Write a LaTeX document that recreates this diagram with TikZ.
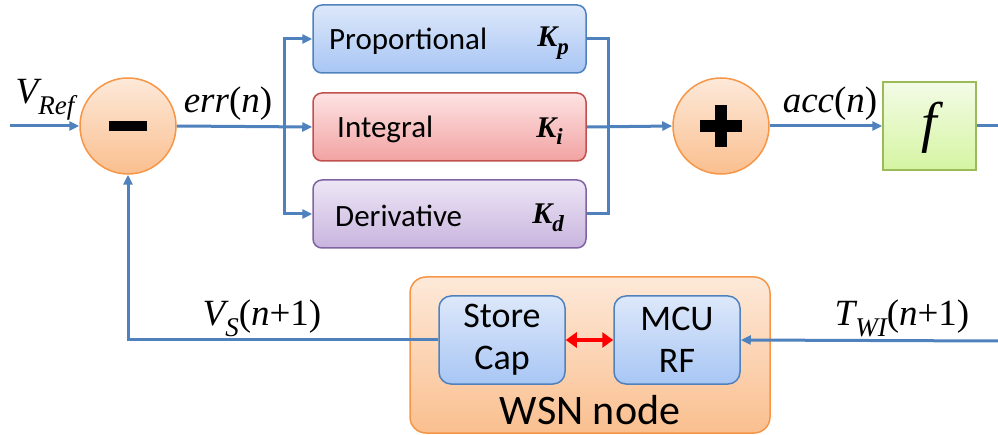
\documentclass[tikz,border=0pt]{standalone}
\usepackage{fontspec}
\setmainfont{Carlito}
\newfontfamily\timesfnt{Liberation Serif}
\usetikzlibrary{arrows.meta}
\definecolor{lblue}{HTML}{4F81BD}
\definecolor{orng}{HTML}{F79646}
\definecolor{otop}{HTML}{FDE9D9}
\definecolor{obot}{HTML}{FABF8F}
\definecolor{btop}{HTML}{DDE8FA}
\definecolor{bbot}{HTML}{A8C6F4}
\definecolor{rtop}{HTML}{FDE3E3}
\definecolor{rbot}{HTML}{F2A2A2}
\definecolor{rdraw}{HTML}{C0504D}
\definecolor{vtop}{HTML}{EDE6F5}
\definecolor{vbot}{HTML}{C8B4DE}
\definecolor{vdraw}{HTML}{8064A2}
\definecolor{gtop}{HTML}{F3FBE6}
\definecolor{gbot}{HTML}{D5F5A2}
\definecolor{gdraw}{HTML}{9BBB59}
\tikzset{
  conn/.style={draw=lblue, line width=3pt},
  arr/.style={conn, -{Triangle[length=10pt,width=9pt]}},
  sumcirc/.style={circle, draw=orng, line width=1.5pt, minimum size=96pt, inner sep=0pt, top color=otop, bottom color=obot},
  blk/.style={rectangle, rounded corners=9pt, line width=1.5pt, minimum width=273pt, minimum height=68pt, inner sep=0pt},
  lbl/.style={font=\timesfnt\itshape\fontsize{37}{40}\selectfont, inner sep=0pt},
  btxt/.style={font=\fontsize{31}{34}\selectfont, inner sep=0pt},
  ktxt/.style={font=\timesfnt\bfseries\itshape\fontsize{30}{32}\selectfont, inner sep=0pt},
  inbox/.style={rectangle, rounded corners=12pt, draw=lblue, line width=1.5pt, minimum width=126pt, minimum height=88pt, top color=btop, bottom color=bbot, align=center, font=\fontsize{36}{42}\selectfont, inner sep=0pt}
}
\begin{document}
\begin{tikzpicture}[x=1pt,y=-1pt]
\useasboundingbox (0,0) rectangle (998,435);
% summing circles
\node[sumcirc] (minus) at (128,126) {};
\fill (minus.center) ++(-19,-5) rectangle ++(38,10);
\node[sumcirc] (plus) at (721,126) {};
\fill (plus.center) ++(-21,-6) rectangle ++(42,12);
\fill (plus.center) ++(-6,-21) rectangle ++(12,42);
% PID blocks
\node[blk, draw=lblue, top color=btop, bottom color=bbot] (prop) at (449.5,39) {};
\node[blk, draw=rdraw, top color=rtop, bottom color=rbot] (integ) at (449.5,127) {};
\node[blk, draw=vdraw, top color=vtop, bottom color=vbot] (deriv) at (449.5,214) {};
\node[btxt, anchor=west] (tp) at (329,41) {Proportional};
\node[btxt, anchor=west] (ti) at (337,129) {Integral};
\node[btxt, anchor=west] (td) at (335,216) {Derivative};
\node[ktxt, anchor=east] (kp) at (569,43) {K\raisebox{-0.25em}{\fontsize{23}{24}\selectfont p}};
\node[ktxt, anchor=east] (ki) at (563,131) {K\raisebox{-0.25em}{\fontsize{23}{24}\selectfont i}};
\node[ktxt, anchor=east] (kd) at (564,218) {K\raisebox{-0.25em}{\fontsize{23}{24}\selectfont d}};
% f block
\node[rectangle, draw=gdraw, line width=1.5pt, minimum width=93pt, minimum height=88pt, inner sep=0pt, top color=gtop, bottom color=gbot] (fblk) at (929.5,126) {};
\node[font=\timesfnt\itshape\fontsize{56}{60}\selectfont, inner sep=0pt] (fl) at (929.5,128) {f};
% WSN node
\node[rectangle, rounded corners=16pt, draw=orng, line width=1.5pt, minimum width=360pt, minimum height=156pt, inner sep=0pt, top color=otop, bottom color=obot] (wsn) at (590,355) {};
\node[font=\fontsize{42}{46}\selectfont, inner sep=0pt] (wsnt) at (590,410) {WSN node};
\node[inbox] (store) at (502,340) {Store\\Cap};
\node[inbox] (mcu) at (677,340) {MCU\\RF};
% coordinates
\coordinate (vin) at (10,126);
\coordinate (bl) at (284,126);
\coordinate (br) at (608,126);
\coordinate (rout) at (998,126);
\coordinate (rin) at (998,341);
% connectors
\draw[arr] (vin) -- (minus.west);
\draw[arr] (minus.east) -- (integ.west);
\draw[arr] (bl) |- (prop.west);
\draw[arr] (bl) |- (deriv.west);
\draw[conn] (prop.east) -| (br) |- (deriv.east);
\draw[arr] (integ.east) -- (plus.west);
\draw[arr] (plus.east) -- (fblk.west);
\draw[conn] (fblk.east) -- (rout);
\draw[arr] (rin) -- (mcu.east);
\draw[arr] (store.west) -| (minus.south);
\draw[red, line width=3.5pt, {Triangle[length=11pt,width=15pt]}-{Triangle[length=11pt,width=15pt]}] (store.east) -- (mcu.west);
% labels
\node[lbl] (lvref) at (45,100) {V\raisebox{-0.3em}{\fontsize{27}{28}\selectfont Ref}};
\node[lbl] (lerr) at (228,104) {err{\upshape(}n{\upshape)}};
\node[lbl] (lacc) at (830,104) {acc{\upshape(}n{\upshape)}};
\node[lbl] (lvs) at (262,318) {V\raisebox{-0.3em}{\fontsize{27}{28}\selectfont S}{\upshape(}n{\upshape+1)}};
\node[lbl] (ltwi) at (902,318) {T\raisebox{-0.3em}{\fontsize{27}{28}\selectfont WI}{\upshape(}n{\upshape+1)}};
\end{tikzpicture}
\end{document}
